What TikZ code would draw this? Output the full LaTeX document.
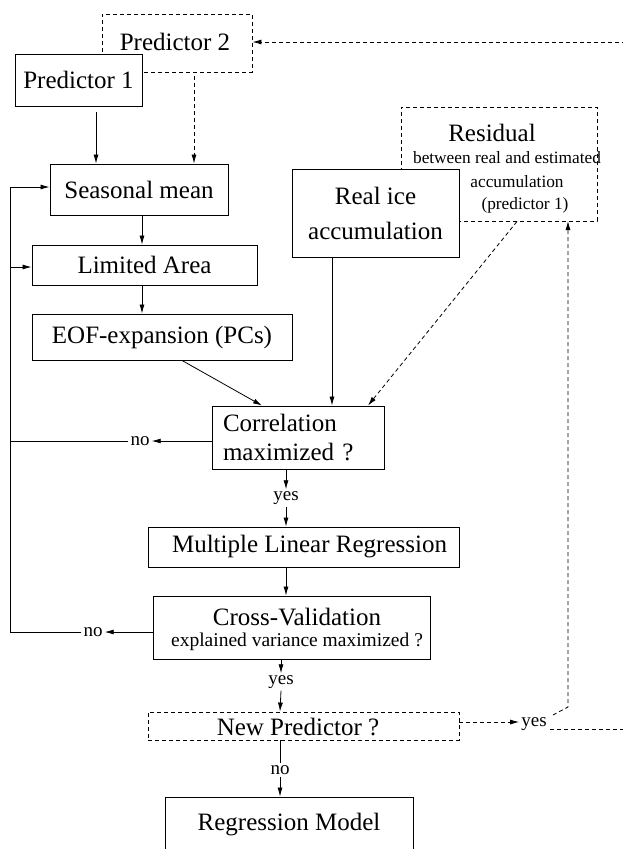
\documentclass[tikz,border=0pt]{standalone}
\usepackage{fontspec}
\setmainfont{Liberation Serif}
\usetikzlibrary{arrows.meta}
\tikzset{
  box/.style={draw, line width=0.9pt, fill=white, inner sep=0pt, align=center,
              font=\fontsize{25}{35}\selectfont},
  dsh/.style={dash pattern=on 4pt off 3pt},
  dbox/.style={box, dsh},
  txt/.style={inner sep=0pt, font=\fontsize{25}{30}\selectfont},
  small/.style={inner sep=0pt, font=\fontsize{17.3}{20}\selectfont},
  lab/.style={inner sep=2pt, font=\fontsize{19}{22}\selectfont},
  ln/.style={line width=0.8pt},
  arr/.style={ln, -{Latex[length=9pt,width=5pt]}},
}
\begin{document}
\begin{tikzpicture}[x=1pt,y=-1pt]
\useasboundingbox (0,0) rectangle (623,849);
\clip (0,0) rectangle (623,849);

% top boxes
\node[dbox, minimum width=150pt, minimum height=58pt] (P2) at (177,43) {};
\node[txt] (P2t) at (175,42) {Predictor 2};
\node[box, minimum width=127pt, minimum height=52pt] (P1) at (78.5,80) {Predictor 1};

\node[box, minimum width=178pt, minimum height=51pt] (SM) at (139,189.5) {Seasonal mean};
\node[box, minimum width=225pt, minimum height=40pt] (LA) at (144.5,265) {Limited Area};
\node[box, minimum width=260pt, minimum height=46pt] (EOF) at (162,337) {EOF-expansion (PCs)};

% residual (behind real ice)
\node[dbox, minimum width=196pt, minimum height=114pt] (Res) at (499,164) {};
\node[txt] (Res1) at (492,133) {Residual};
\node[small] (Res2) at (507,158) {between real and estimated};
\node[small] (Res3) at (517,182) {accumulation};
\node[small] (Res4) at (525,205) {(predictor 1)};

\node[box, minimum width=167pt, minimum height=88pt] (RI) at (375.5,213) {Real ice\\accumulation};

\node[box, minimum width=172pt, minimum height=63pt, text width=161pt, align=left,
      font=\fontsize{25}{29}\selectfont] (Corr) at (298,437.5) {\hspace*{5.5pt}Correlation\\\hspace*{5.5pt}maximized ?};

\node[box, minimum width=311pt, minimum height=40pt] (MLR) at (303.5,547) {\hspace*{12pt}Multiple Linear Regression};

\node[box, minimum width=277pt, minimum height=63pt] (CV) at (291.5,627.5) {};
\node[txt] (CV1) at (297,617) {Cross-Validation};
\node[inner sep=0pt, font=\fontsize{19.5}{22}\selectfont] (CV2) at (297,642) {explained variance maximized ?};

\node[dbox, minimum width=311pt, minimum height=28pt] (NP) at (303.5,726) {};
\node[txt] (NPt) at (298,727) {New Predictor ?};

\node[box, minimum width=248pt, minimum height=56pt] (RM) at (289,825) {Regression Model};

% labels
\node[lab] (no1) at (140,441) {no};
\node[lab] (no2) at (93,632) {no};
\node[lab] (yes1) at (286,498) {yes};
\node[lab] (yes2) at (281,682) {yes};
\node[lab] (yes3) at (534,724) {yes};
\node[lab] (no3) at (280,770) {no};

% helper coordinates
\coordinate (x96) at (96,0);
\coordinate (x142) at (142,0);
\coordinate (x182) at (182,0);
\coordinate (x194) at (194,0);
\coordinate (x262) at (262,0);
\coordinate (x280) at (280,0);
\coordinate (x286) at (286,0);
\coordinate (x332) at (332,0);
\coordinate (x368) at (368,0);
\coordinate (x517) at (517,0);
\coordinate (y42) at (0,42);
\coordinate (y722) at (0,722);
\coordinate (P1out) at (96,112);
\coordinate (P2out) at (194,76);
\coordinate (L0) at (10,187);
\coordinate (L1) at (10,267);
\coordinate (L2) at (10,441);
\coordinate (L3) at (10,632);
\coordinate (yU) at (553,715);
\coordinate (yK) at (568,707);
\coordinate (rIn) at (568,221);
\coordinate (yR) at (550,729);
\coordinate (farR) at (640,729);

% connectors top
\draw[arr] (P1out) -- (SM.north -| x96);
\draw[arr, dsh] (P2out) -- (SM.north -| x194);
\draw[arr] (SM.south -| x142) -- (LA.north -| x142);
\draw[arr] (LA.south -| x142) -- (EOF.north -| x142);
\draw[arr] (EOF.south -| x182) -- (Corr.north -| x262);
\draw[arr] (RI.south -| x332) -- (Corr.north -| x332);
\draw[arr, dsh] (Res.south -| x517) -- (Corr.north -| x368);

% feedback loops
\draw[arr] (Corr.west |- no1) -- (no1.east);
\draw[ln] (no1.west) -- (L2);
\draw[arr] (CV.west |- no2) -- (no2.east);
\draw[ln] (no2.west) -- (L3) -- (L0);
\draw[arr] (L0) -- (SM.west |- L0);
\draw[arr] (L1) -- (LA.west |- L1);

% main chain
\draw[arr] (yes1 |- Corr.south) -- (yes1.north);
\draw[arr] (yes1.south) -- (yes1 |- MLR.north);
\draw[arr] (MLR.south -| x286) -- (CV.north -| x286);
\draw[arr] (yes2 |- CV.south) -- (yes2.north);
\draw[arr] (yes2.south) -- (NP.north -| x280);
\draw[ln] (no3 |- NP.south) -- (no3.north);
\draw[arr] (no3.south) -- (no3 |- RM.north);

% new predictor loop
\draw[arr, dsh] (NP.east |- y722) -- (yes3.west |- y722);
\draw[arr, dsh] (yU) -- (yK) -- (rIn);
\draw[arr, dsh] (yR) -- (farR) |- (P2.east |- y42);
\end{tikzpicture}
\end{document}
